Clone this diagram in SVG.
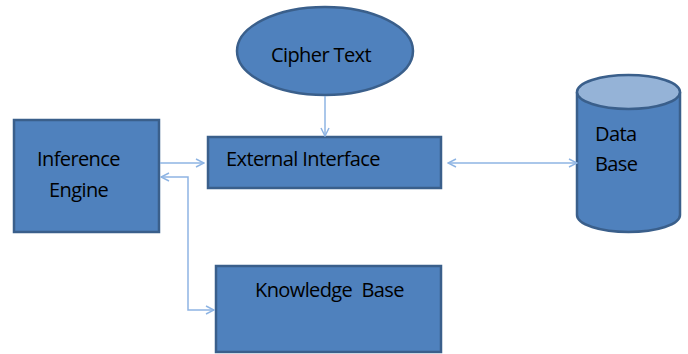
<svg xmlns="http://www.w3.org/2000/svg" width="688" height="354" viewBox="0 0 688 354">
  <style>
    .shape { fill: #4F81BD; stroke: #3A5F8B; stroke-width: 2.5; }
    .top { fill: #95B3D7; stroke: #3A5F8B; stroke-width: 2.5; }
    .label { font-family: "Open Sans", "Liberation Sans", sans-serif; font-size: 20px; fill: #000; letter-spacing: -0.6px; white-space: pre; }
    .link { fill: none; stroke: #8EB4E3; stroke-width: 1.5; }
  </style>
  <defs>
    <marker id="head" viewBox="0 0 10 10" refX="9" refY="5" markerWidth="10" markerHeight="10" markerUnits="userSpaceOnUse" orient="auto-start-reverse">
      <path d="M1,1 L9,5 L1,9" fill="none" stroke="#8EB4E3" stroke-width="1.5"/>
    </marker>
  </defs>
  <rect width="688" height="354" fill="#fff"/>

  <g id="cipher-text">
    <ellipse class="shape" cx="325" cy="51" rx="88" ry="44"/>
    <text class="label" x="321" y="62" text-anchor="middle">Cipher Text</text>
  </g>

  <g id="inference-engine">
    <rect class="shape" x="14" y="120" width="145" height="112"/>
    <text class="label" x="37" y="166">Inference</text>
    <text class="label" x="49" y="197">Engine</text>
  </g>

  <g id="external-interface">
    <rect class="shape" x="208" y="137" width="233" height="51"/>
    <text class="label" x="226" y="166">External Interface</text>
  </g>

  <g id="knowledge-base">
    <rect class="shape" x="216" y="266" width="225" height="86"/>
    <text class="label" x="255" y="297" xml:space="preserve">Knowledge  Base</text>
  </g>

  <g id="data-base">
    <path class="shape" d="M577,92 L577,215 A51.5,17 0 0 0 680,215 L680,92"/>
    <ellipse class="top" cx="628.5" cy="92" rx="51.5" ry="17"/>
    <text class="label" x="595" y="141">Data</text>
    <text class="label" x="595" y="171">Base</text>
  </g>

  <g id="connectors">
    <path class="link" d="M325,96 L325,136" marker-end="url(#head)"/>
    <path class="link" d="M160,163 L204,163" marker-end="url(#head)"/>
    <path class="link" d="M161,177 L188,177 L188,310 L214,310" marker-start="url(#head)" marker-end="url(#head)"/>
    <path class="link" d="M448,163 L577,163" marker-start="url(#head)" marker-end="url(#head)"/>
  </g>
</svg>
